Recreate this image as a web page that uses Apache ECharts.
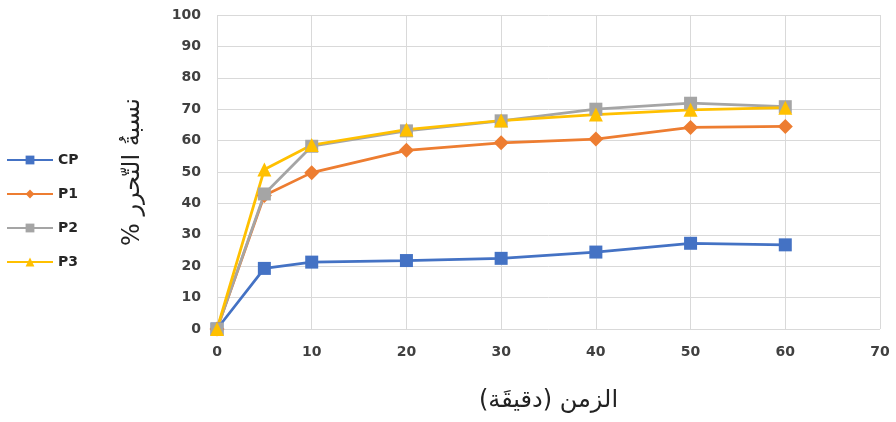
<!DOCTYPE html>
<html>
<head>
<meta charset="utf-8">
<script src="https://cdn.jsdelivr.net/npm/echarts@6/dist/echarts.min.js"></script>
<style>
  html, body { margin: 0; padding: 0; background: #fff; }
  #chart { width: 896px; height: 422px; }
</style>
</head>
<body>
<div id="chart"></div>
<script>
// Release time (minutes) and cumulative release (%) for each formulation
const times = [0, 5, 10, 20, 30, 40, 50, 60];
const cpValues = [0, 19.3, 21.3, 21.8, 22.5, 24.5, 27.3, 26.8];
const p1Values = [0, 42.5, 49.8, 56.9, 59.3, 60.5, 64.2, 64.5];
const p2Values = [0, 43.0, 58.2, 63.1, 66.3, 70.0, 71.9, 70.8];
const p3Values = [0, 50.8, 58.6, 63.5, 66.4, 68.3, 69.8, 70.5];
const seriesNames = ['CP', 'P1', 'P2', 'P3'];
const xTicks = { min: 0, max: 70, step: 10 };
const yTicks = { min: 0, max: 100, step: 10 };

// Right-to-left marks keep the Arabic titles in proper reading order
const RLM = '\u200F';
const xTitle = RLM + 'الزمن (دقيقَة)' + RLM;
const yTitle = RLM + 'نسبةُ التّحرر %' + RLM;

const colors = ['#4472C4', '#ED7D31', '#A5A5A5', '#FFC000'];
const symbols = ['rect', 'diamond', 'rect', 'triangle'];
const symbolSizes = [13, 15, 13, 14];
const valueSets = [cpValues, p1Values, p2Values, p3Values];

const tickFont = { fontFamily: 'DejaVu Sans', fontWeight: 'bold', fontSize: 14, color: '#404040' };

const chart = echarts.init(document.getElementById('chart'));
chart.setOption({
  animation: false,
  color: colors,
  grid: { left: 217, right: 16, top: 15, bottom: 93, containLabel: false },
  legend: {
    orient: 'vertical',
    left: 1,
    top: 148,
    itemWidth: 46,
    itemHeight: 11,
    itemGap: 20,
    data: seriesNames,
    textStyle: { fontFamily: 'DejaVu Sans', fontWeight: 'bold', fontSize: 14, color: '#262626' }
  },
  xAxis: {
    type: 'value',
    min: xTicks.min, max: xTicks.max, interval: xTicks.step,
    name: xTitle,
    nameLocation: 'middle',
    nameGap: 60,
    nameTextStyle: { fontFamily: 'DejaVu Sans', fontSize: 24, color: '#222' },
    axisLine: { show: false },
    axisTick: { show: false },
    axisLabel: Object.assign({ margin: 16 }, tickFont),
    splitLine: { show: true, lineStyle: { color: '#D9D9D9', width: 1 } }
  },
  yAxis: {
    type: 'value',
    min: yTicks.min, max: yTicks.max, interval: yTicks.step,
    name: yTitle,
    nameLocation: 'middle',
    nameRotate: 90,
    nameGap: 72,
    nameTextStyle: { fontFamily: 'DejaVu Sans', fontSize: 24, color: '#222' },
    axisLine: { show: false },
    axisTick: { show: false },
    axisLabel: Object.assign({ margin: 16 }, tickFont),
    splitLine: { show: true, lineStyle: { color: '#D9D9D9', width: 1 } }
  },
  series: seriesNames.map((name, i) => ({
    name: name,
    type: 'line',
    data: times.map((t, j) => [t, valueSets[i][j]]),
    symbol: symbols[i],
    symbolSize: symbolSizes[i],
    lineStyle: { width: 2.75, color: colors[i] },
    itemStyle: { color: colors[i] }
  }))
});
</script>
</body>
</html>
